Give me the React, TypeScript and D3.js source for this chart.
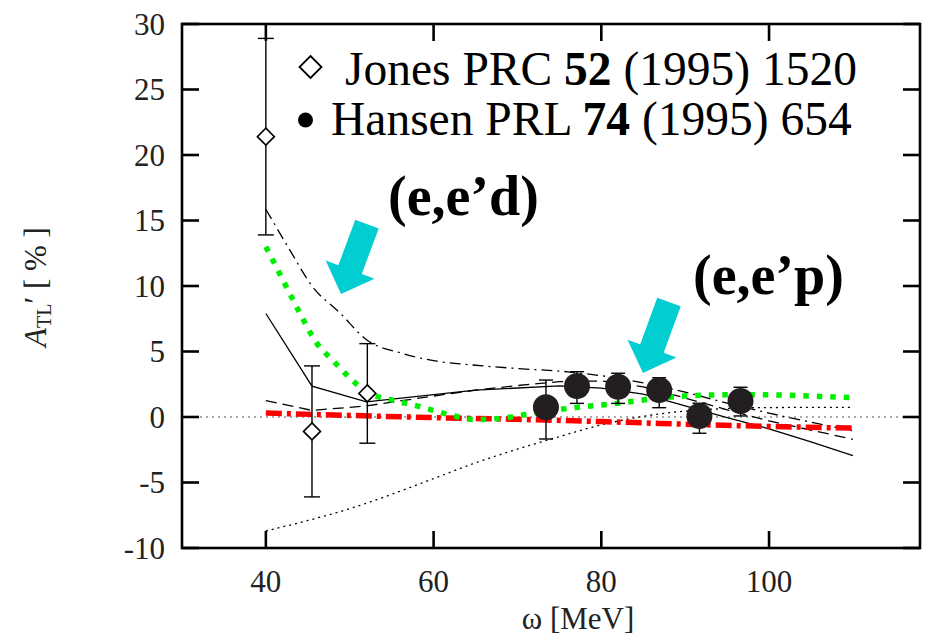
import React from "react";
import * as d3 from "d3";

// ---- data ----
const xTicks = [40, 60, 80, 100];
const yTicks = [-10, -5, 0, 5, 10, 15, 20, 25, 30];

const jonesX = [40, 45.5, 52.1];
const jonesY = [21.4, -1.1, 1.8];
const jonesLo = [13.9, -6.1, -2.0];
const jonesHi = [28.9, 3.9, 5.6];

const hansenX = [73.4, 77.1, 82.0, 86.9, 91.7, 96.6];
const hansenY = [0.74, 2.37, 2.31, 2.06, 0.08, 1.22];
const hansenLo = [-1.68, 1.04, 1.04, 0.71, -1.24, 0.08];
const hansenHi = [2.82, 3.46, 3.34, 3.0, 1.05, 2.27];

const solidX = [40, 45.5, 52, 65, 75, 80, 85, 90, 95, 100, 105, 110];
const solidY = [7.9, 2.35, 1.15, 2.05, 2.37, 2.2, 1.75, 0.85, -0.05, -0.9, -1.9, -2.95];

const dashX = [40, 45.5, 52, 60, 65, 70, 75, 80, 85, 90, 95, 100, 105, 110];
const dashY = [1.25, 0.5, 0.85, 1.6, 2.05, 2.4, 2.7, 2.75, 2.3, 1.45, 0.55, -0.3, -1.0, -1.7];

const dashDotX = [40, 42.9, 45.5, 48.9, 52, 56, 60, 65, 70, 76, 80, 85, 90, 95, 100, 105, 110];
const dashDotY = [15.85, 12.7, 10.0, 7.9, 5.9, 4.9, 4.3, 3.95, 3.7, 3.45, 3.15, 2.6, 1.9, 1.05, 0.3, -0.4, -1.05];

const dottedX = [40, 45, 50, 55, 60, 65, 70, 75, 80, 85, 90, 95, 100, 110];
const dottedY = [-8.7, -7.9, -7.0, -5.9, -4.7, -3.5, -2.45, -1.5, -0.6, 0.05, 0.45, 0.65, 0.72, 0.74];

const greenX = [40, 42, 44, 46, 48, 50, 52, 55, 58, 62, 65, 68, 72, 76, 82, 87, 93, 98, 110];
const greenY = [13.0, 10.5, 8.0, 5.7, 4.3, 3.0, 1.9, 1.3, 0.85, 0.15, -0.2, -0.1, 0.3, 0.65, 1.05, 1.45, 1.68, 1.7, 1.47];

const redX = [40, 50, 60, 70, 80, 90, 100, 110];
const redY = [0.3, 0.12, -0.05, -0.18, -0.35, -0.55, -0.72, -0.85];

// arrows: tail centre and tip, in data coordinates
const arrowTail = [[52.06, 14.73], [88.07, 8.78]];
const arrowTip = [[48.96, 9.39], [84.97, 3.36]];

const legendLabels = [
  ["Jones PRC ", "52", " (1995) 1520"],
  ["Hansen PRL ", "74", " (1995) 654"],
];

export default function App() {
  const W = 925, H = 640;
  const L = 182, R = 920, T = 24, B = 548;
  const x = d3.scaleLinear().domain([30, 118]).range([L, R]);
  const y = d3.scaleLinear().domain([-10, 30]).range([B, T]);
  const font = "Liberation Serif, DejaVu Serif, Noto Serif, serif";
  const tick = 17;

  const mk = (xs: number[], ys: number[], curve: any) =>
    d3.line<number>().x((_, i) => x(xs[i])).y((_, i) => y(ys[i])).curve(curve)(xs) || "";

  const arrowPath = (k: number) => {
    const [tx, ty] = [x(arrowTail[k][0]), y(arrowTail[k][1])];
    const [px, py] = [x(arrowTip[k][0]), y(arrowTip[k][1])];
    const len = Math.hypot(px - tx, py - ty);
    const dx = (px - tx) / len, dy = (py - ty) / len;
    const nx = -dy, ny = dx;
    const sw = 12.5, hw = 26, hl = 26;
    const bx = px - hl * dx, by = py - hl * dy;
    const pts = [
      [tx + sw * nx, ty + sw * ny],
      [bx + sw * nx, by + sw * ny],
      [bx + hw * nx, by + hw * ny],
      [px, py],
      [bx - hw * nx, by - hw * ny],
      [bx - sw * nx, by - sw * ny],
      [tx - sw * nx, ty - sw * ny],
    ];
    return "M" + pts.map((p) => p.join(",")).join("L") + "Z";
  };

  const diamond = (cx: number, cy: number, r: number) =>
    `M${cx},${cy - r}L${cx + r},${cy}L${cx},${cy + r}L${cx - r},${cy}Z`;

  return (
    <svg width={W} height={H} style={{ display: "block", position: "absolute", left: 0, top: 0 }}>
      <rect width={W} height={H} fill="#fff" />
      {/* zero line */}
      <line x1={L} x2={R} y1={y(0)} y2={y(0)} stroke="#555" strokeWidth={1.2} strokeDasharray="2,4" />

      {/* theory curves */}
      <path d={mk(dottedX, dottedY, d3.curveMonotoneX)} fill="none" stroke="#000" strokeWidth={1.3} strokeDasharray="2,4" />
      <path d={mk(dashDotX, dashDotY, d3.curveMonotoneX)} fill="none" stroke="#000" strokeWidth={1.3} strokeDasharray="11,5,2,5" />
      <path d={mk(dashX, dashY, d3.curveLinear)} fill="none" stroke="#000" strokeWidth={1.3} strokeDasharray="11,6" />
      <path d={mk(solidX, solidY, d3.curveLinear)} fill="none" stroke="#000" strokeWidth={1.3} />
      <path d={mk(redX, redY, d3.curveMonotoneX)} fill="none" stroke="#ff0000" strokeWidth={5.5} strokeDasharray="16,5,4,5" />
      <path d={mk(greenX, greenY, d3.curveMonotoneX)} fill="none" stroke="#00ee00" strokeWidth={5.5} strokeDasharray="5.5,8" />

      {/* Jones data */}
      {jonesX.map((v, i) => (
        <g key={"j" + i} stroke="#000" strokeWidth={1.4} fill="none">
          <line x1={x(v)} x2={x(v)} y1={y(jonesLo[i])} y2={y(jonesHi[i])} />
          <line x1={x(v) - 8} x2={x(v) + 8} y1={y(jonesLo[i])} y2={y(jonesLo[i])} />
          <line x1={x(v) - 8} x2={x(v) + 8} y1={y(jonesHi[i])} y2={y(jonesHi[i])} />
          <path d={diamond(x(v), y(jonesY[i]), 8.5)} fill="#fff" strokeWidth={1.6} />
        </g>
      ))}

      {/* Hansen data */}
      {hansenX.map((v, i) => (
        <g key={"h" + i}>
          <g stroke="#000" strokeWidth={1.4}>
            <line x1={x(v)} x2={x(v)} y1={y(hansenLo[i])} y2={y(hansenHi[i])} />
            <line x1={x(v) - 7} x2={x(v) + 7} y1={y(hansenLo[i])} y2={y(hansenLo[i])} />
            <line x1={x(v) - 7} x2={x(v) + 7} y1={y(hansenHi[i])} y2={y(hansenHi[i])} />
          </g>
          <circle cx={x(v)} cy={y(hansenY[i])} r={13} fill="#231f20" />
        </g>
      ))}

      {/* arrows */}
      <path d={arrowPath(0)} fill="#00ced1" />
      <path d={arrowPath(1)} fill="#00ced1" />

      {/* frame and ticks */}
      <g stroke="#000" strokeWidth={2.6}>
        <rect x={L} y={T} width={R - L} height={B - T} fill="none" />
        {xTicks.map((t) => (
          <g key={"xt" + t}>
            <line x1={x(t)} x2={x(t)} y1={B} y2={B - tick} />
            <line x1={x(t)} x2={x(t)} y1={T} y2={T + tick} />
          </g>
        ))}
        {yTicks.map((t) => (
          <g key={"yt" + t}>
            <line x1={L} x2={L + tick} y1={y(t)} y2={y(t)} />
            <line x1={R} x2={R - tick} y1={y(t)} y2={y(t)} />
          </g>
        ))}
      </g>

      {/* tick labels */}
      <g fontFamily={font} fontSize={31} fill="#222">
        {yTicks.map((t) => (
          <text key={"yl" + t} x={165} y={y(t)} dy="0.35em" textAnchor="end">{t}</text>
        ))}
        {xTicks.map((t) => (
          <text key={"xl" + t} x={x(t)} y={592} textAnchor="middle">{t}</text>
        ))}
      </g>

      {/* axis titles */}
      <text x={578} y={629} textAnchor="middle" fontFamily={font} fontSize={31} fill="#222">ω [MeV]</text>
      <text transform="translate(46,287) rotate(-90)" textAnchor="middle" fontFamily={font} fontSize={31} fill="#222">
        <tspan fontStyle="italic">A</tspan>
        <tspan fontSize={20} dy={5}>TL</tspan>
        <tspan dy={-5}>′</tspan>
        <tspan> [ % ]</tspan>
      </text>

      {/* legend */}
      <path d={diamond(310.5, 67, 11)} fill="none" stroke="#000" strokeWidth={1.8} />
      <circle cx={305.5} cy={120} r={7.5} fill="#000" />
      {legendLabels.map((lab, i) => (
        <text key={"lg" + i} x={i === 0 ? 345 : 331} y={i === 0 ? 85 : 135} fontFamily={font} fontSize={47.5} fill="#000">
          {lab[0]}<tspan fontWeight="bold">{lab[1]}</tspan>{lab[2]}
        </text>
      ))}

      {/* annotations */}
      <text x={388} y={215} fontFamily={font} fontSize={56} fontWeight="bold" fill="#000">(e,e’d)</text>
      <text x={693} y={294} fontFamily={font} fontSize={56} fontWeight="bold" fill="#000">(e,e’p)</text>
    </svg>
  );
}
